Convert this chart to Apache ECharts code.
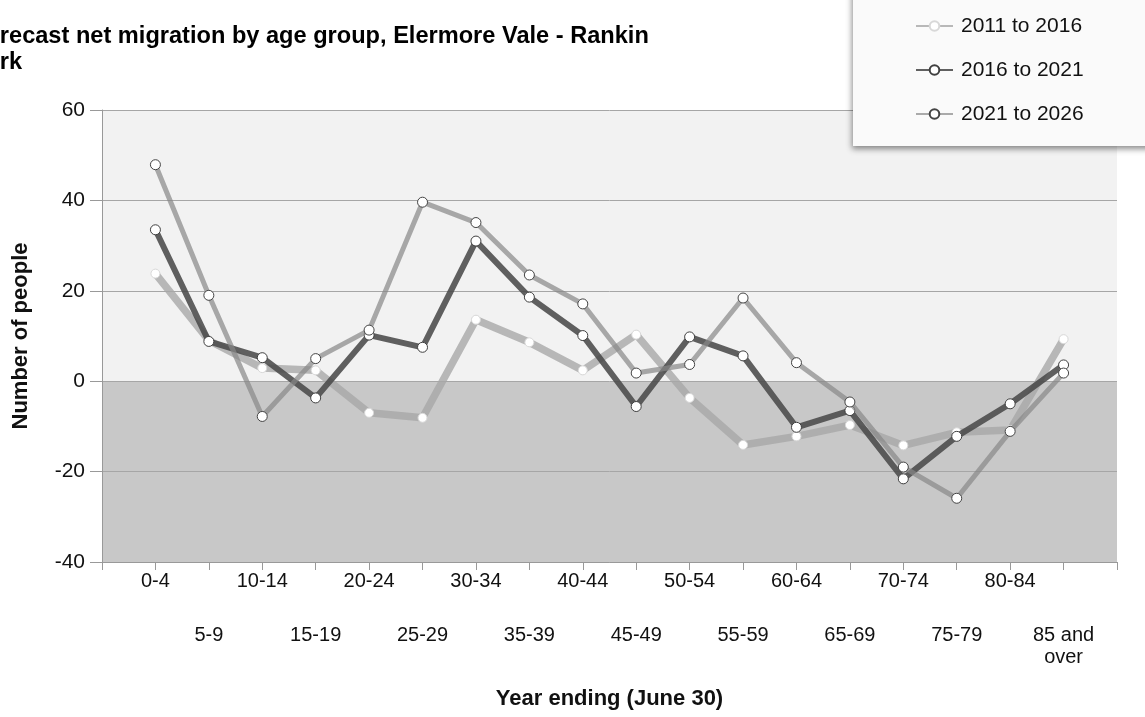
<!DOCTYPE html>
<html>
<head>
<meta charset="utf-8">
<script src="https://cdn.jsdelivr.net/npm/echarts@6/dist/echarts.min.js"></script>
<style>
html,body{margin:0;padding:0;background:#fff;}
#chart{width:1145px;height:717px;}
</style>
</head>
<body>
<div id="chart"></div>
<script>
var ageGroups = ['0-4','5-9','10-14','15-19','20-24','25-29','30-34','35-39','40-44','45-49','50-54','55-59','60-64','65-69','70-74','75-79','80-84','85 and over'];
var s2011 = [23.8, 9.0, 2.9, 2.4, -7.0, -8.1, 13.6, 8.6, 2.4, 10.3, -3.7, -14.1, -12.2, -9.7, -14.2, -11.3, -10.8, 9.3];
var s2016 = [33.5, 8.8, 5.2, -3.7, 10.2, 7.5, 31.0, 18.6, 10.1, -5.6, 9.8, 5.6, -10.2, -6.5, -21.6, -12.2, -5.0, 3.6];
var s2021 = [47.9, 19.0, -7.8, 5.0, 11.3, 39.6, 35.1, 23.5, 17.1, 1.8, 3.7, 18.4, 4.1, -4.6, -19.0, -25.9, -11.1, 1.8];
var seriesNames = ['2011 to 2016', '2016 to 2021', '2021 to 2026'];
var yTicks = [-40, -20, 0, 20, 40, 60];

var cats = [''].concat(ageGroups).concat(['']);
function pad(arr){ return ['-'].concat(arr).concat(['-']); }

var FONT = 'Liberation Sans, Arial, sans-serif';
var chart = echarts.init(document.getElementById('chart'), null, {renderer:'canvas'});
var option = {
  animation: false,
  backgroundColor: '#ffffff',
  title: {
    text: 'Forecast net migration by age group, Elermore Vale - Rankin\nPark',
    left: -29, top: 23, padding: 0,
    textStyle: {fontFamily: FONT, fontSize: 23.6, fontWeight: 'bold', color: '#000', lineHeight: 26}
  },
  legend: {
    orient: 'vertical',
    left: 853, top: -10,
    padding: [24, 120, 20, 62],
    itemWidth: 37, itemHeight: 12, itemGap: 20,
    backgroundColor: '#fafafa',
    shadowBlur: 6, shadowColor: 'rgba(0,0,0,0.45)', shadowOffsetX: -1, shadowOffsetY: 3,
    textStyle: {fontFamily: FONT, fontSize: 21, color: '#111', lineHeight: 24, padding: [0,0,0,3]},
    data: seriesNames
  },
  grid: {left: 102, right: 28, top: 110, bottom: 155, containLabel: false},
  xAxis: {
    type: 'category',
    data: cats,
    boundaryGap: false,
    name: 'Year ending (June 30)',
    nameLocation: 'middle',
    nameGap: 126,
    nameTextStyle: {fontFamily: FONT, fontSize: 22, fontWeight: 'bold', color: '#111'},
    axisLine: {onZero: false, lineStyle: {color: '#999', width: 1}},
    axisTick: {show: true, interval: 0, length: 8, lineStyle: {color: '#999'}},
    axisLabel: {
      interval: 0, margin: 8,
      fontFamily: FONT, fontSize: 20, color: '#111',
      formatter: function(v, idx){
        if (!v) return '';
        var i = idx - 1;
        var parts = v === '85 and over' ? ['85 and', 'over'] : [v];
        var body = parts.map(function(p){ return '{a|' + p + '}'; }).join('\n');
        return (i % 2 === 1) ? '{s| }\n' + body : body;
      },
      rich: {
        a: {fontFamily: FONT, fontSize: 20, color: '#111', lineHeight: 22},
        s: {fontSize: 10, lineHeight: 54, height: 54}
      }
    },
    splitLine: {show: false}
  },
  yAxis: {
    type: 'value',
    min: -40, max: 60, interval: 20,
    name: 'Number of people',
    nameLocation: 'middle',
    nameGap: 70,
    nameTextStyle: {fontFamily: FONT, fontSize: 22, fontWeight: 'bold', color: '#111'},
    axisLine: {show: true, lineStyle: {color: '#999', width: 1}},
    axisTick: {show: true, length: 12, lineStyle: {color: '#999'}},
    axisLabel: {
      margin: 17, fontFamily: FONT, fontSize: 21, color: '#111',
      formatter: function(v){ return yTicks.indexOf(v) >= 0 ? String(v) : ''; }
    },
    splitLine: {show: true, lineStyle: {color: '#a6a6a6', width: 1}},
    splitArea: {show: true, areaStyle: {color: ['#c8c8c8', '#c8c8c8', '#f2f2f2', '#f2f2f2', '#f2f2f2']}}
  },
  series: [
    {
      name: seriesNames[0], type: 'line', data: pad(s2011),
      symbol: 'circle', symbolSize: 9, showSymbol: true,
      lineStyle: {color: '#a8a8a8', width: 7.5, opacity: 0.8, join: 'round'},
      itemStyle: {color: '#ffffff', borderColor: '#d8d8d8', borderWidth: 1},
      z: 2
    },
    {
      name: seriesNames[1], type: 'line', data: pad(s2016),
      symbol: 'circle', symbolSize: 10, showSymbol: true,
      lineStyle: {color: '#4a4a4a', width: 6, opacity: 0.88},
      itemStyle: {color: '#ffffff', borderColor: '#404040', borderWidth: 1},
      z: 3
    },
    {
      name: seriesNames[2], type: 'line', data: pad(s2021),
      symbol: 'circle', symbolSize: 10, showSymbol: true,
      lineStyle: {color: '#888888', width: 5, opacity: 0.7},
      itemStyle: {color: '#ffffff', borderColor: '#444444', borderWidth: 1},
      z: 4
    }
  ]
};
chart.setOption(option);
</script>
</body>
</html>
